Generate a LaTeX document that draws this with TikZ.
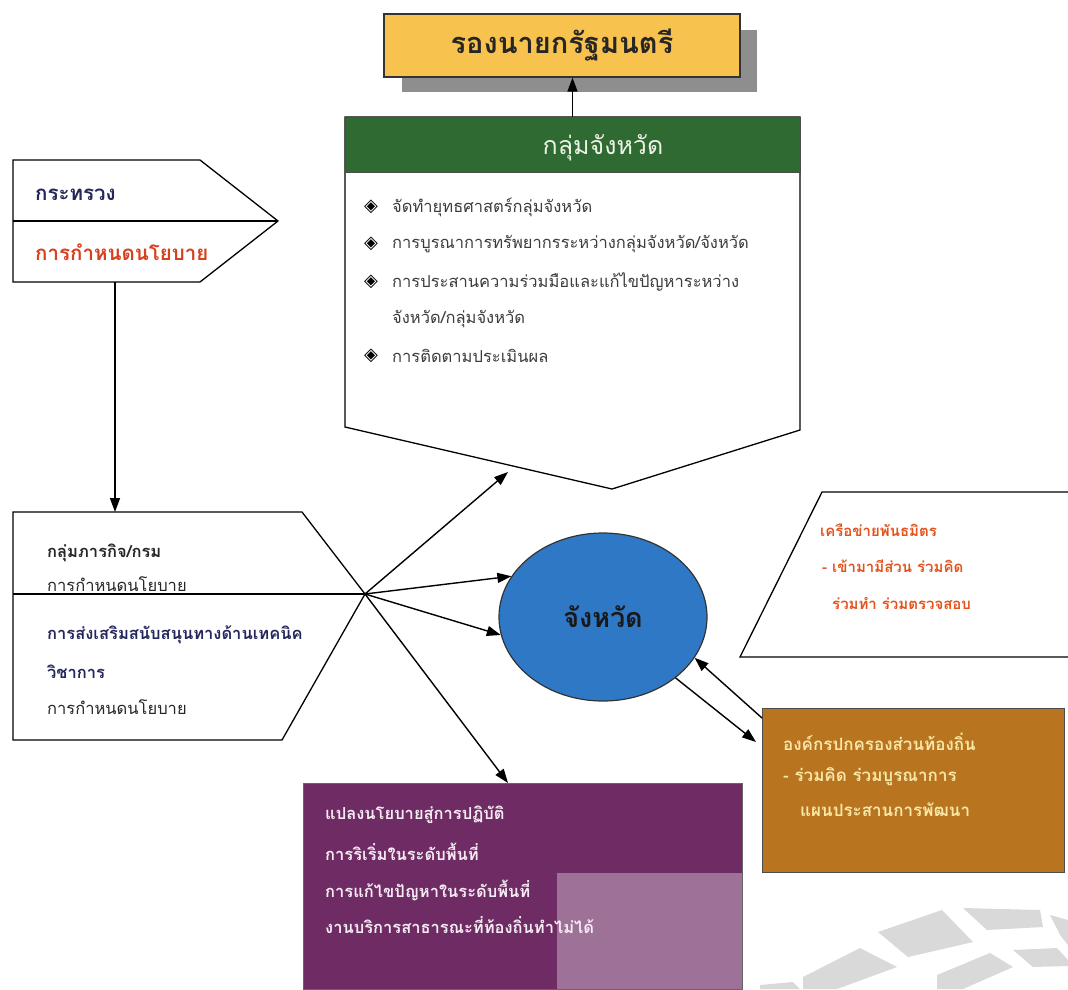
\documentclass[tikz,border=0pt]{standalone}
\usepackage{fontspec}
\newfontfamily\thai[Script=Thai]{Loma}
\newfontfamily\sym{DejaVu Sans}
\usetikzlibrary{arrows.meta,shapes.geometric}
\definecolor{pmyellow}{HTML}{F8C24E}
\definecolor{shadowgray}{HTML}{8E8E8E}
\definecolor{grpgreen}{HTML}{2F6A33}
\definecolor{hdrtext}{HTML}{EEF3E6}
\definecolor{bullettext}{HTML}{3C3C3C}
\definecolor{navytext}{HTML}{24275A}
\definecolor{redtext}{HTML}{D8401E}
\definecolor{provblue}{HTML}{2F78C6}
\definecolor{nettext}{HTML}{E4531C}
\definecolor{laoorange}{HTML}{B8741F}
\definecolor{laotext}{HTML}{F8E7A6}
\definecolor{purplebox}{HTML}{6F2B63}
\definecolor{purplelight}{HTML}{9E7198}
\definecolor{purpletext}{HTML}{F5ECF3}
\definecolor{wmgray}{HTML}{D9D9D9}
\begin{document}
\begin{tikzpicture}[x=1pt,y=-1pt,
  shapeline/.style={line width=1.3pt,draw=black},
  arr/.style={line width=1.4pt,-{Triangle[length=14pt,width=10pt]}},
  lbl/.style={anchor=west,inner sep=0pt,font=\thai},
  bul/.style={inner sep=0pt,font=\sym\fontsize{18}{20}\selectfont},
  btxt/.style={lbl,text=bullettext,font=\thai\fontsize{16.5}{18}\selectfont},
  dtxt/.style={lbl,font=\thai\fontsize{16.5}{18}\selectfont,text=black!85},
  dbold/.style={lbl,font=\thai\bfseries\fontsize{16.5}{18}\selectfont},
  ptxt/.style={lbl,font=\thai\bfseries\fontsize{16.5}{18}\selectfont,text=purpletext},
  ntxt/.style={lbl,font=\thai\bfseries\fontsize{15}{17}\selectfont,text=nettext},
  otxt/.style={lbl,font=\thai\bfseries\fontsize{17}{19}\selectfont,text=laotext},
]
\useasboundingbox (0,0) rectangle (1068,989);
\fill[white] (0,0) rectangle (1068,989);

% watermark tiles
\fill[wmgray] (878,932) -- (942,910) -- (973,942) -- (908,957) -- cycle;
\fill[wmgray] (963,908) -- (1040,910) -- (1043,927) -- (987,930) -- cycle;
\fill[wmgray] (1050,915) -- (1068,920) -- (1068,945) -- (1060,935) -- cycle;
\fill[wmgray] (803,977) -- (860,948) -- (897,967) -- (837,989) -- (803,989) -- cycle;
\fill[wmgray] (937,975) -- (990,953) -- (1013,967) -- (963,989) -- (937,989) -- cycle;
\fill[wmgray] (1013,950) -- (1057,948) -- (1068,960) -- (1068,966) -- (1033,967) -- cycle;
\fill[wmgray] (760,985) -- (793,982) -- (800,989) -- (760,989) -- cycle;

% top box (deputy prime minister)
\fill[shadowgray] (402,30) rectangle (757,92);
\node[draw=black!80,line width=1.2pt,fill=pmyellow,minimum width=356pt,minimum height=63pt,inner sep=0pt,
      font=\thai\bfseries\fontsize{29}{31}\selectfont,text=black!85] (pm) at (562,45.5) {รองนายกรัฐมนตรี};

% province group
\draw[shapeline,fill=white] (345,117) -- (800,117) -- (800,430) -- (612,489) -- (345,427) -- cycle;
\node[fill=grpgreen,draw=black!70,line width=1pt,minimum width=455pt,minimum height=55pt,inner sep=0pt] (hdr) at (572.5,144.5) {};
\node[inner sep=0pt,font=\thai\fontsize{25}{27}\selectfont,text=hdrtext] (hdrtxt) at (603,148) {กลุ่มจังหวัด};
\draw[arr] (hdr.north) -- (hdr.north |- pm.south);

\node[bul] (b1) at (371,207) {◈};
\node[btxt] (t1) at (392,207) {จัดทำยุทธศาสตร์กลุ่มจังหวัด};
\node[bul] (b2) at (371,244) {◈};
\node[btxt] (t2) at (392,244) {การบูรณาการทรัพยากรระหว่างกลุ่มจังหวัด/จังหวัด};
\node[bul] (b3) at (371,282) {◈};
\node[btxt] (t3) at (392,282) {การประสานความร่วมมือและแก้ไขปัญหาระหว่าง};
\node[btxt] (t3b) at (392,319) {จังหวัด/กลุ่มจังหวัด};
\node[bul] (b4) at (371,356) {◈};
\node[btxt] (t4) at (392,356) {การติดตามประเมินผล};

% ministry
\draw[shapeline] (13,160) -- (200,160) -- (278,221) -- (200,282) -- (13,282) -- cycle;
\draw[shapeline] (13,221) -- (278,221);
\node[lbl,font=\thai\bfseries\fontsize{20.5}{22}\selectfont,text=navytext] (min1) at (35,195) {กระทรวง};
\node[lbl,font=\thai\bfseries\fontsize{20.5}{22}\selectfont,text=redtext] (min2) at (35,252) {การกำหนดนโยบาย};
\coordinate (minB) at (115,282);
\coordinate (deptT) at (115,512);
\draw[arr] (minB) -- (deptT);

% department group
\draw[shapeline] (13,512) -- (302,512) -- (365,594) -- (282,740) -- (13,740) -- cycle;
\draw[shapeline] (13,594) -- (365,594);
\node[dbold,text=black!85] (d1) at (47,553) {กลุ่มภารกิจ/กรม};
\node[dtxt] (d2) at (47,584) {การกำหนดนโยบาย};
\node[dbold,text=navytext] (d3) at (47,635) {การส่งเสริมสนับสนุนทางด้านเทคนิค};
\node[dbold,text=navytext] (d4) at (47,672) {วิชาการ};
\node[dtxt] (d5) at (47,707) {การกำหนดนโยบาย};

% province
\node[ellipse,draw=black!80,line width=1.2pt,fill=provblue,minimum width=208pt,minimum height=168pt,inner sep=0pt,
      font=\thai\bfseries\fontsize{27}{29}\selectfont,text=black!90] (prov) at (603,617) {จังหวัด};

% hub arrows
\coordinate (hub) at (365,594);
\coordinate (grpT) at (508,472);
\draw[arr] (hub) -- (grpT);
\draw[arr] (hub) -- (prov.156);
\draw[arr] (hub) -- (prov.190);

% purple box
\node[fill=purplebox,draw=black!60,line width=1pt,minimum width=439pt,minimum height=206pt,inner sep=0pt] (pur) at (522.5,886) {};
\fill[purplelight] (557,873) rectangle (742,989);
\coordinate (purT) at (508,783);
\draw[arr] (hub) -- (purT);
\node[ptxt] (p1) at (325,815) {แปลงนโยบายสู่การปฏิบัติ};
\node[ptxt] (p2) at (325,852) {การริเริ่มในระดับพื้นที่};
\node[ptxt] (p3) at (325,890) {การแก้ไขปัญหาในระดับพื้นที่};
\node[ptxt] (p4) at (325,925) {งานบริการสาธารณะที่ท้องถิ่นทำไม่ได้};

% network
\draw[shapeline] (1068,492) -- (822,492) -- (740,657) -- (1068,657);
\node[ntxt] (n1) at (820,530) {เครือข่ายพันธมิตร};
\node[ntxt] (n2) at (822,566) {- เข้ามามีส่วน ร่วมคิด};
\node[ntxt] (n3) at (832,603) {ร่วมทำ ร่วมตรวจสอบ};

% local government
\node[fill=laoorange,draw=black!70,line width=1pt,minimum width=302pt,minimum height=164pt,inner sep=0pt] (lao) at (913,790) {};
\node[otxt] (l1) at (783,742) {องค์กรปกครองส่วนท้องถิ่น};
\node[otxt] (l2) at (783,777) {- ร่วมคิด ร่วมบูรณาการ};
\node[otxt] (l3) at (800,810) {แผนประสานการพัฒนา};
\coordinate (laoA) at (762,718);
\coordinate (laoB) at (756,742);
\draw[arr] (laoA) -- (prov.-24);
\draw[arr] (prov.-40) -- (laoB);
\end{tikzpicture}
\end{document}
